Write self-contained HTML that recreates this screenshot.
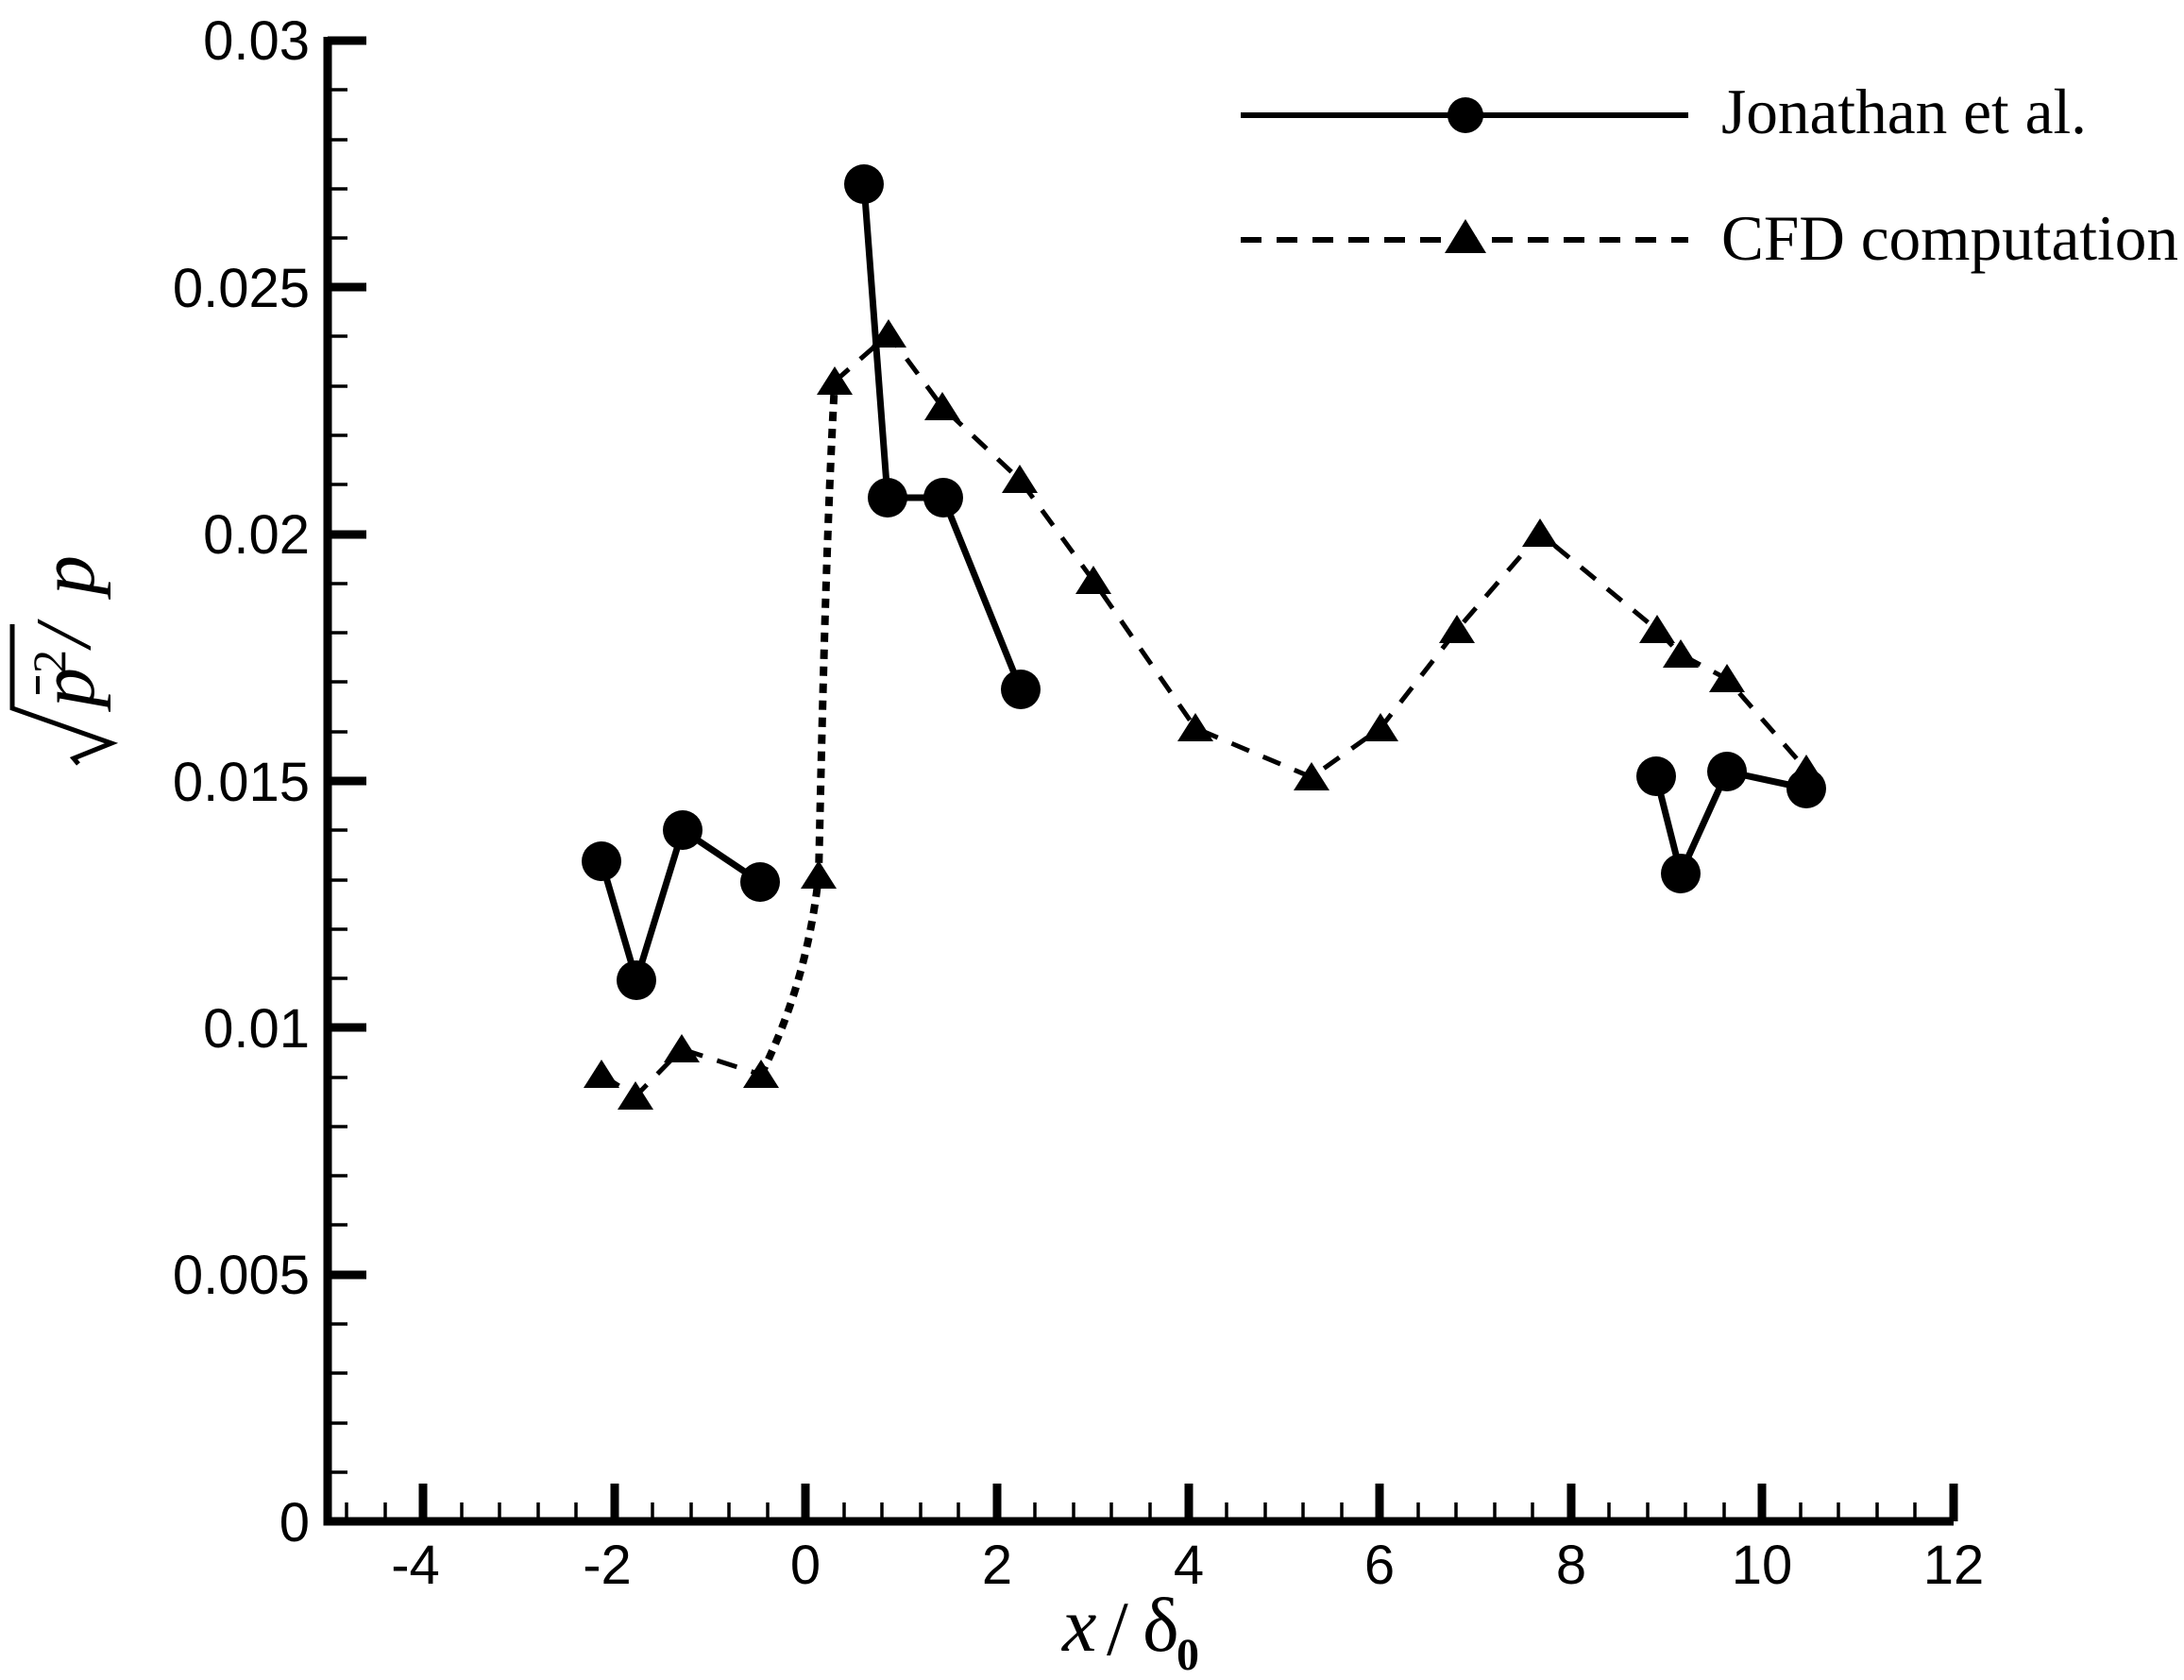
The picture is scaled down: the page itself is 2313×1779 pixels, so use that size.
<!DOCTYPE html>
<html><head><meta charset="utf-8"><style>html,body{margin:0;padding:0;background:#fff}svg{display:block}</style></head>
<body>
<svg width="2313" height="1779" viewBox="0 0 2313 1779" xmlns="http://www.w3.org/2000/svg">
<rect width="2313" height="1779" fill="#fff"/>
<g stroke="#000" fill="none" stroke-linecap="butt">
<path d="M347,39 V1611 H2069" stroke-width="9"/>
<g stroke-width="9">
<path d="M448,1611V1571M651,1611V1571M853,1611V1571M1056,1611V1571M1259,1611V1571M1461,1611V1571M1664,1611V1571M1866,1611V1571M2069,1611V1571"/>
</g>
<g stroke-width="3.5">
<path d="M367,1611V1591M408,1611V1591
M489,1611V1591M529,1611V1591M570,1611V1591M610,1611V1591
M691,1611V1591M732,1611V1591M772,1611V1591M813,1611V1591
M894,1611V1591M934,1611V1591M975,1611V1591M1015,1611V1591
M1096,1611V1591M1137,1611V1591M1177,1611V1591M1218,1611V1591
M1299,1611V1591M1340,1611V1591M1380,1611V1591M1421,1611V1591
M1502,1611V1591M1542,1611V1591M1583,1611V1591M1623,1611V1591
M1704,1611V1591M1745,1611V1591M1785,1611V1591M1826,1611V1591
M1907,1611V1591M1947,1611V1591M1988,1611V1591M2028,1611V1591"/>
</g>
<g stroke-width="9">
<path d="M347,43H388M347,304H388M347,566H388M347,827H388M347,1088H388M347,1350H388"/>
</g>
<g stroke-width="3.5">
<path d="M347,95H368M347,148H368M347,200H368M347,252H368
M347,356H368M347,409H368M347,461H368M347,513H368
M347,618H368M347,670H368M347,722H368M347,775H368
M347,879H368M347,932H368M347,984H368M347,1036H368
M347,1141H368M347,1193H368M347,1245H368M347,1297H368
M347,1402H368M347,1454H368M347,1507H368M347,1559H368"/>
</g>
</g>
<g font-family="Liberation Sans, sans-serif" font-size="58" fill="#000" text-anchor="end">
<text x="328" y="63">0.03</text>
<text x="328" y="325">0.025</text>
<text x="328" y="586">0.02</text>
<text x="328" y="848">0.015</text>
<text x="328" y="1109">0.01</text>
<text x="328" y="1370">0.005</text>
<text x="328" y="1632">0</text>
</g>
<g font-family="Liberation Sans, sans-serif" font-size="58" fill="#000" text-anchor="middle">
<text x="440" y="1677">-4</text>
<text x="643" y="1677">-2</text>
<text x="853" y="1677">0</text>
<text x="1056" y="1677">2</text>
<text x="1259" y="1677">4</text>
<text x="1461" y="1677">6</text>
<text x="1664" y="1677">8</text>
<text x="1866" y="1677">10</text>
<text x="2069" y="1677">12</text>
</g>
<g stroke="#000" fill="none">
<path d="M637,1138 L673,1161 L722,1111 L806,1138" stroke-width="5" stroke-dasharray="22 16"/>
<path d="M806,1138 Q855,1040 867,927 C872,700 876,550 884,404" stroke-width="8" stroke-dasharray="10 8"/>
<path d="M884,404 L941,354 L998,431 L1080,508 L1158,615 L1266,771 L1389,823 L1462,771 L1543,667 L1631,565 L1755,667 L1780,693 L1829,719 L1913,815" stroke-width="5" stroke-dasharray="20 16"/>
</g>
<g fill="#000">
<path d="M637,1122 l-19,30 h38z"/><path d="M673,1145 l-19,30 h38z"/><path d="M722,1095 l-19,30 h38z"/><path d="M806,1122 l-19,30 h38z"/>
<path d="M867,911 l-19,30 h38z"/><path d="M884,388 l-19,30 h38z"/><path d="M941,338 l-19,30 h38z"/><path d="M998,415 l-19,30 h38z"/>
<path d="M1080,492 l-19,30 h38z"/><path d="M1158,599 l-19,30 h38z"/><path d="M1266,755 l-19,30 h38z"/><path d="M1389,807 l-19,30 h38z"/>
<path d="M1462,755 l-19,30 h38z"/><path d="M1543,651 l-19,30 h38z"/><path d="M1631,549 l-19,30 h38z"/><path d="M1755,651 l-19,30 h38z"/>
<path d="M1780,677 l-19,30 h38z"/><path d="M1829,703 l-19,30 h38z"/><path d="M1913,799 l-19,30 h38z"/>
</g>
<g stroke="#000" stroke-width="7" fill="none">
<path d="M637,912 L674,1038 L723,879 L805,934"/>
<path d="M915,195 L940,527 L999,527 L1081,730"/>
<path d="M1754,822 L1780,925 L1829,817 L1913,835"/>
</g>
<g fill="#000">
<circle cx="637" cy="912" r="21"/><circle cx="674" cy="1038" r="21"/><circle cx="723" cy="879" r="21"/><circle cx="805" cy="934" r="21"/>
<circle cx="915" cy="195" r="21"/><circle cx="940" cy="527" r="21"/><circle cx="999" cy="527" r="21"/><circle cx="1081" cy="730" r="21"/>
<circle cx="1754" cy="822" r="21"/><circle cx="1780" cy="925" r="21"/><circle cx="1829" cy="817" r="21"/><circle cx="1913" cy="835" r="21"/>
</g>
<path d="M1314,122 H1788" stroke="#000" stroke-width="6"/>
<circle cx="1552" cy="122" r="19" fill="#000"/>
<path d="M1314,254 H1788" stroke="#000" stroke-width="6" stroke-dasharray="22 16"/>
<path d="M1552,232 l-22,36 h44z" fill="#000"/>
<g font-family="Liberation Serif, serif" font-size="68" fill="#000">
<text x="1823" y="141" textLength="387" lengthAdjust="spacingAndGlyphs">Jonathan et al.</text>
<text x="1823" y="275" textLength="484" lengthAdjust="spacingAndGlyphs">CFD computation</text>
</g>
<g font-family="Liberation Serif, serif" fill="#000">
<text x="1125" y="1748" font-size="82" font-style="italic">x</text>
<text x="1172" y="1752" font-size="82">/</text>
<text x="1210" y="1748" font-size="82">δ</text>
<text x="1246" y="1768" font-size="48" font-weight="bold">0</text>
</g>
<g transform="translate(95,813) rotate(-90)" font-family="Liberation Serif, serif" fill="#000">
<path d="M4,-12 L10,-17 L26,23 L63,-82 H152" stroke="#000" stroke-width="5" fill="none"/>
<text x="64" y="4" font-size="84" font-style="italic">p</text>
<path d="M78,-55 H97" stroke="#000" stroke-width="4"/>
<text x="100" y="-26" font-size="50">2</text>
<text x="128" y="0" font-size="84" font-style="italic">/</text>
<text x="183" y="4" font-size="84" font-style="italic">p</text>
</g>
</svg>
</body></html>
